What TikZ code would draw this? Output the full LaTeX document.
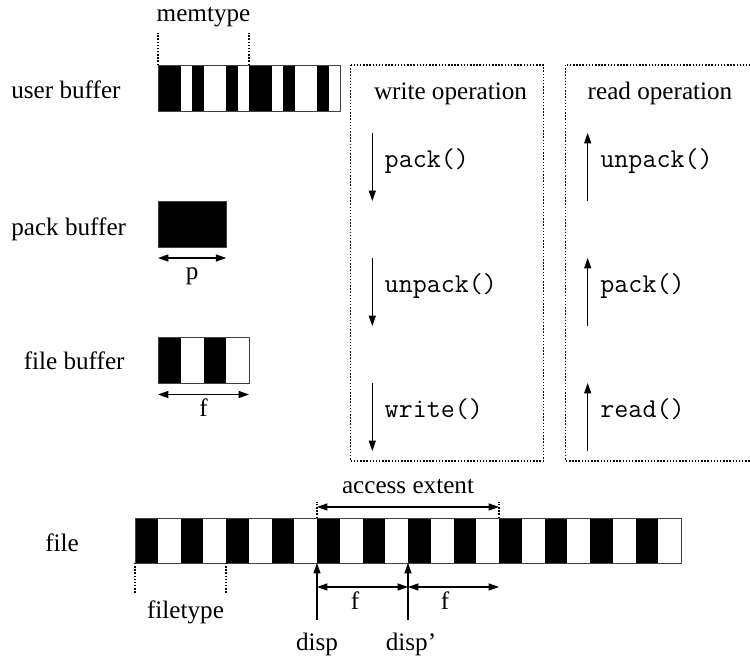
\documentclass[tikz,border=0pt]{standalone}
\usepackage{fontspec}
\setmainfont{Liberation Serif}
\usetikzlibrary{positioning,arrows.meta}

\tikzset{
  cell/.style={draw=black!75, line width=0.45pt},
  opbox/.style={draw, line width=0.55pt, dash pattern=on 0.7pt off 0.8pt},
  tick/.style={line width=0.55pt, dash pattern=on 0.7pt off 0.8pt},
  flow/.style={-{Triangle[length=5pt,width=3.4pt]}, line width=0.5pt},
  dimline/.style={{Triangle[length=5pt,width=3.4pt]}-{Triangle[length=5pt,width=3.4pt]}, line width=0.5pt},
  lbl/.style={inner sep=0pt, font=\fontsize{12}{14}\selectfont},
  fn/.style={inner sep=0pt, anchor=base west, font=\fontsize{13}{15}\selectfont\ttfamily},
}

% one basic unit of the buffers and the file
\def\u{11.375}
\def\s{22.75}

\begin{document}
\begin{tikzpicture}[x=0.477pt, y=-0.477pt]
  \useasboundingbox (0,0) rectangle (750,661);
  \clip (0,0) rectangle (750,661);

  % user buffer = two memtypes
  \foreach \a/\b in {0/2,3/4,6/7,8/10,11/12,14/15}
    \fill (158+\a*\u,65) rectangle (158+\b*\u,111);
  \draw[cell] (158,65) rectangle (158+16*\u,111);
  \node[lbl, anchor=base east] (userlbl) at (121,99) {user buffer};

  \coordinate (mt-l) at (158,65);
  \coordinate (mt-r) at (158+8*\u,65);
  \draw[tick] (mt-l) -- ++(0,-32);
  \draw[tick] (mt-r) -- ++(0,-32);
  \node[lbl, anchor=base] (memlbl) at (158+4*\u,21.5) {memtype};

  % pack buffer
  \fill (158,201) rectangle (158+6*\u,247);
  \draw[cell] (158,201) rectangle (158+6*\u,247);
  \node[lbl, anchor=base east] (packlbl) at (126.5,236) {pack buffer};
  \coordinate (pb-l) at (158,258);
  \coordinate (pb-r) at (158+6*\u,258);
  \draw[dimline] (pb-l) -- (pb-r);
  \node[lbl, anchor=base] (plbl) at (158+3*\u,280) {p};

  % file buffer
  \foreach \a/\b in {0/2,4/6}
    \fill (158+\a*\u,337) rectangle (158+\b*\u,383);
  \draw[cell] (158,337) rectangle (158+8*\u,383);
  \node[lbl, anchor=base east] (fbuflbl) at (125,370) {file buffer};
  \coordinate (fb-l) at (158,394.5);
  \coordinate (fb-r) at (158+8*\u,394.5);
  \draw[dimline] (fb-l) -- (fb-r);
  \node[lbl, anchor=base] (fblbl) at (158+4*\u,416.5) {f};

  % write and read operations
  \draw[opbox] (350.5,65) rectangle (543.3,461);
  \draw[opbox] (565.7,65) rectangle (770,461);
  \node[lbl, anchor=base] (wrlbl) at (450.5,100) {write operation};
  \node[lbl, anchor=base] (rdlbl) at (660,100) {read operation};

  \foreach \y/\w/\r in {133/pack/unpack, 258/unpack/pack, 383/write/read} {
    \coordinate (w-top) at (372.3,\y);
    \coordinate (w-bot) at (372.3,\y+68);
    \coordinate (r-top) at (587.7,\y);
    \coordinate (r-bot) at (587.7,\y+68);
    \draw[flow] (w-top) -- (w-bot);
    \draw[flow] (r-bot) -- (r-top);
    \node[fn] (wfn) at (384.3,\y+35) {\w()};
    \node[fn] (rfn) at (600,\y+35) {\r()};
  }

  % the file, tiled with filetypes
  \foreach \i in {0,2,...,22}
    \fill (135+\i*\s,518) rectangle (135+\i*\s+\s,563);
  \draw[cell] (135,518) rectangle (135+24*\s,563);
  \node[lbl, anchor=base east] (filelbl) at (79.3,551.5) {file};

  \coordinate (ft-l) at (135,563);
  \coordinate (ft-r) at (135+4*\s,563);
  \draw[tick] (ft-l) -- ++(0,31);
  \draw[tick] (ft-r) -- ++(0,31);
  \node[lbl, anchor=base] (ftlbl) at (185.5,619) {filetype};

  % access extent
  \coordinate (disp) at (135+8*\s,563);
  \coordinate (disp2) at (135+12*\s,563);
  \coordinate (ext) at (135+16*\s,563);
  \draw[tick] (135+8*\s,518) -- ++(0,-16);
  \draw[tick] (135+16*\s,518) -- ++(0,-16);
  \draw[dimline] (135+8*\s,507) coordinate (ae-l) -- (135+16*\s,507) coordinate (ae-r);
  \node[lbl, anchor=base] (aelbl) at (408,494) {access extent};

  % displacements
  \coordinate (disp-foot) at (135+8*\s,620);
  \coordinate (disp2-foot) at (135+12*\s,620);
  \draw[flow] (disp-foot) -- (disp);
  \draw[flow] (disp2-foot) -- (disp2);
  \node[lbl, anchor=base] (displbl) at (317,651) {disp};
  \node[lbl, anchor=base] (disp2lbl) at (411,651) {disp'};

  \coordinate (f1) at (135+8*\s,587);
  \coordinate (f2) at (135+12*\s,587);
  \coordinate (f3) at (135+16*\s,587);
  \draw[dimline] (f1) -- (f2);
  \draw[dimline] (f2) -- (f3);
  \node[lbl, anchor=base] (f1lbl) at (355,610) {f};
  \node[lbl, anchor=base] (f2lbl) at (445,610) {f};
\end{tikzpicture}
\end{document}
